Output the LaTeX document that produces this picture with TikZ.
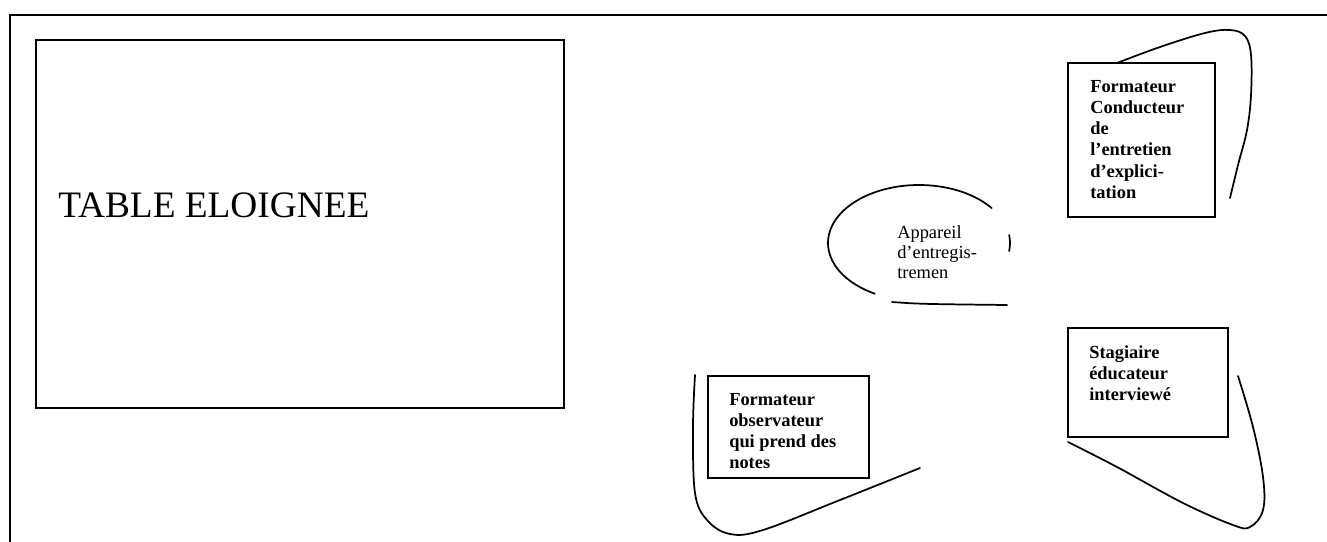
\documentclass[tikz,border=0pt]{standalone}
\usepackage{fontspec}
\setmainfont{Liberation Serif}
\begin{document}
\begin{tikzpicture}[x=0.75pt,y=-0.75pt,
  frame/.style={line width=1.3pt,black},
  curve/.style={line width=1.3pt,black,line cap=round},
  lbl/.style={inner sep=0pt,anchor=base west},
  boldtxt/.style={font=\bfseries\fontsize{13.8pt}{15.75pt}\selectfont},
  plaintxt/.style={font=\fontsize{13.8pt}{15pt}\selectfont}]
\useasboundingbox (0,0) rectangle (1327,542);
% outer frame
\draw[frame] (1327,15) -- (10,15) -- (10,542);
% table
\draw[frame] (36,40) rectangle (564,408);
\node[lbl,font=\fontsize{28pt}{32pt}\selectfont] (tabletext) at (58,217) {TABLE ELOIGNEE};
% box 1
\draw[frame] (1068,63) rectangle (1215,217);
\node[lbl,boldtxt] (t1) at (1090,93) {\parbox[t]{120pt}{\raggedright Formateur\\Conducteur\\de\\l’entretien\\d’explici-\\tation}};
\draw[curve] plot[smooth,tension=0.6] coordinates {(1117,63) (1160,47) (1205,33) (1230,30) (1245,36) (1251,55) (1251,95) (1247,130) (1238,165) (1230,198)};
% ellipse (recording device)
\draw[curve] (919,243) ++(37:91 and -58) arc[start angle=37,end angle=241,x radius=91,y radius=-58];
\draw[curve] (919,243) ++(-8:91 and -58) arc[start angle=-8,end angle=8,x radius=91,y radius=-58];
\coordinate (eb1) at (892,302);
\coordinate (eb2) at (1007,305);
\draw[curve] (eb1) .. controls (920,304) .. (eb2);
\node[lbl,plaintxt] (t2) at (897,238) {\parbox[t]{120pt}{\raggedright Appareil\\d’entregis-\\tremen}};
% box 3
\draw[frame] (708,376) rectangle (869,478);
\node[lbl,boldtxt] (t3) at (729,405) {\parbox[t]{140pt}{\raggedright Formateur\\observateur\\qui prend des\\notes}};
\draw[curve] plot[smooth,tension=0.6] coordinates {(695,375) (693,427) (695,493) (707,520) (730,534) (763,530) (840,500) (920,468)};
% box 4
\draw[frame] (1068,328) rectangle (1228,437);
\node[lbl,boldtxt] (t4) at (1089,358) {\parbox[t]{120pt}{\raggedright Stagiaire\\éducateur\\interviewé}};
\draw[curve] plot[smooth,tension=0.6] coordinates {(1068,442) (1117,467) (1183,503) (1233,525) (1250,527) (1263,510) (1263,477) (1253,427) (1238,376)};
\end{tikzpicture}
\end{document}
